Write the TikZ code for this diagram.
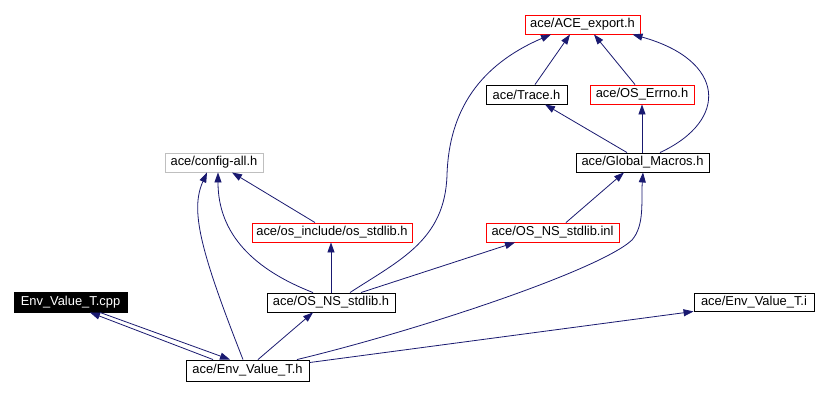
\documentclass[tikz,border=0pt]{standalone}
\usepackage{fontspec}
\setmainfont{Liberation Sans}
\usetikzlibrary{arrows.meta}
\definecolor{edgeblue}{HTML}{191970}
\definecolor{boxgray}{HTML}{BFBFBF}
\begin{document}
\begin{tikzpicture}[x=1pt,y=-1pt,
  box/.style={draw=black,line width=0.9pt,inner sep=0pt,minimum height=19pt,font=\fontsize{12.9}{15}\selectfont,text=black},
  redbox/.style={box,draw=red},
  graybox/.style={box,draw=boxgray},
  rootbox/.style={box,fill=black,text=white},
  edge/.style={draw=edgeblue,line width=0.8pt,-{Triangle[length=10pt,width=7pt]}}]
\useasboundingbox[fill=white] (0,0) rectangle (828,395);
% nodes
\node[redbox,minimum width=115pt] (exp) at (582.5,24.5) {ace/ACE\_export.h};
\node[box,minimum width=81pt] (trace) at (526.5,94.5) {ace/Trace.h};
\node[redbox,minimum width=104pt] (errno) at (642,94.5) {ace/OS\_Errno.h};
\node[box,minimum width=133pt] (gm) at (642.5,162.5) {ace/Global\_Macros.h};
\node[graybox,minimum width=98pt] (cfg) at (214,162.5) {ace/config-all.h};
\node[redbox,minimum width=160pt] (osstd) at (332,232.5) {ace/os\_include/os\_stdlib.h};
\node[redbox,minimum width=133pt] (inl) at (552.5,232.5) {ace/OS\_NS\_stdlib.inl};
\node[box,minimum width=128pt] (nsh) at (331,302.5) {ace/OS\_NS\_stdlib.h};
\node[rootbox,minimum width=113pt,minimum height=20pt] (cpp) at (70.5,302) {Env\_Value\_T.cpp};
\node[box,minimum width=123pt,minimum height=21pt] (evh) at (247.5,370.5) {ace/Env\_Value\_T.h};
\node[box,minimum width=120pt,minimum height=18pt] (evi) at (754,302) {ace/Env\_Value\_T.i};
% edges
\draw[edge] ([xshift=29.5pt]cpp.south) -- ([xshift=-17.5pt]evh.north);
\draw[edge] ([xshift=-34.5pt]evh.north) -- ([xshift=19.5pt]cpp.south);
\draw[edge] ([xshift=-4.5pt]evh.north) .. controls (200,250) and (190,210) .. ([xshift=-7pt]cfg.south);
\draw[edge] ([xshift=-18pt]nsh.north) .. controls (255,270) and (218,235) .. ([xshift=4pt]cfg.south);
\draw[edge] ([xshift=-17pt]osstd.north) -- ([xshift=18pt]cfg.south);
\draw[edge] (nsh.north) -- (nsh.north |- osstd.south);
\draw[edge] ([xshift=19pt]nsh.north) .. controls (400,260) and (445,240) .. (447,175) .. controls (449,110) and (480,65) .. ([xshift=-31.5pt]exp.south);
\draw[edge] ([xshift=30pt]nsh.north) -- ([xshift=-37.5pt]inl.south);
\draw[edge] ([xshift=13.5pt]inl.north) -- ([xshift=-18.5pt]gm.south);
\draw[edge] ([xshift=49.5pt]evh.north) .. controls (420,330) and (600,270) .. (632,240) .. controls (645,225) and (641,200) .. ([xshift=0.5pt]gm.south);
\draw[edge] ([yshift=-3pt]evh.north east) -- (evi.south west);
\draw[edge] ([xshift=10.5pt]evh.north) -- ([xshift=-18pt]nsh.south);
\draw[edge] ([xshift=-15.5pt]gm.north) -- ([xshift=18.5pt]trace.south);
\draw[edge] ([xshift=-0.5pt]gm.north) -- (errno.south);
\draw[edge] ([xshift=17.5pt]gm.north) .. controls (730,120) and (725,60) .. ([xshift=50pt]exp.south);
\draw[edge] ([xshift=8.5pt]trace.north) -- ([xshift=-12.5pt]exp.south);
\draw[edge] ([xshift=-7pt]errno.north) -- ([xshift=11.5pt]exp.south);
\end{tikzpicture}
\end{document}
